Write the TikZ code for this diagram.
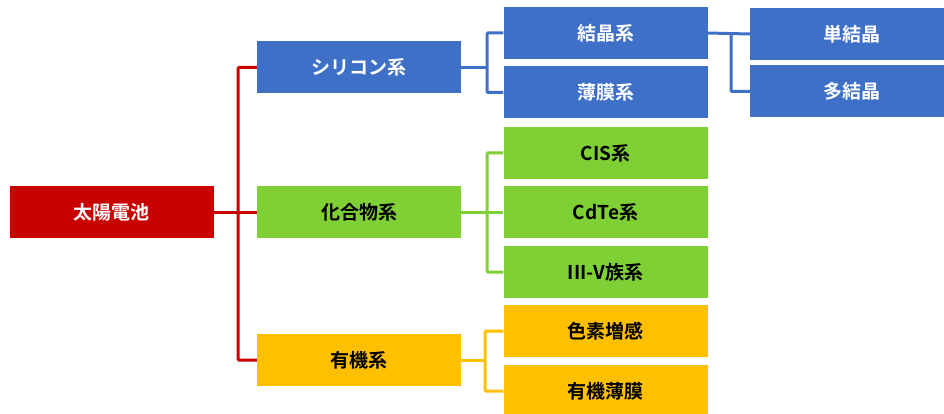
\documentclass[tikz,border=0pt]{standalone}
\usepackage{fontspec}
\setmainfont{Noto Sans CJK JP}[BoldFont={Noto Sans CJK JP Bold}]
\definecolor{cred}{RGB}{200,0,0}
\definecolor{cblue}{RGB}{62,112,200}
\definecolor{cgreen}{RGB}{126,208,52}
\definecolor{cyel}{RGB}{255,192,0}
\tikzset{
  box/.style={rectangle, minimum width=204pt, minimum height=52pt, inner sep=0pt,
    font=\fontsize{19}{21}\selectfont\bfseries},
  redbox/.style={box, fill=cred, text=white},
  bluebox/.style={box, fill=cblue, text=white},
  greenbox/.style={box, fill=cgreen, text=black},
  yelbox/.style={box, fill=cyel, text=black},
  link/.style={line width=3pt, rounded corners=1pt},
}
\begin{document}
\begin{tikzpicture}[x=1pt,y=-1pt]
\useasboundingbox (0,0) rectangle (944,414);
\clip (0,0) rectangle (944,414);
% level 0
\node[redbox] (root) at (111.5,212) {太陽電池};
% level 1
\node[bluebox] (si) at (359,67.5) {シリコン系};
\node[greenbox] (comp) at (359,212) {化合物系};
\node[yelbox] (org) at (359,360) {有機系};
% level 2
\node[bluebox] (cry) at (605.5,33) {結晶系};
\node[bluebox] (thin) at (605.5,92.5) {薄膜系};
\node[greenbox] (cis) at (605.5,153) {CIS系};
\node[greenbox] (cdte) at (605.5,212) {CdTe系};
\node[greenbox] (iiiv) at (605.5,272) {III-V族系};
\node[yelbox] (dye) at (605.5,331) {色素増感};
\node[yelbox] (ofilm) at (605.5,391) {有機薄膜};
% level 3
\node[bluebox] (mono) at (852,34) {単結晶};
\node[bluebox] (poly) at (852,91.5) {多結晶};
% connectors
\coordinate (rj) at (238,0);
\draw[link, cred] (root.east) -- (comp.west);
\draw[link, cred] (si.west) -| (rj |- root.east) |- (org.west);
\coordinate (bj) at (487,0);
\draw[link, cblue] (si.east) -- (bj |- si.east);
\draw[link, cblue] (cry.west) -| (bj |- thin.west) -- (thin.west);
\coordinate (gj) at (487,0);
\draw[link, cgreen] (comp.east) -- (cdte.west);
\draw[link, cgreen] (cis.west) -| (gj |- iiiv.west) -- (iiiv.west);
\coordinate (yj) at (485,0);
\draw[link, cyel] (org.east) -- (yj |- org.east);
\draw[link, cyel] (dye.west) -| (yj |- ofilm.west) -- (ofilm.west);
\coordinate (tj) at (731,0);
\draw[link, cblue] (cry.east) -- (mono.west);
\draw[link, cblue] (tj |- mono.west) |- (poly.west);
\end{tikzpicture}
\end{document}
